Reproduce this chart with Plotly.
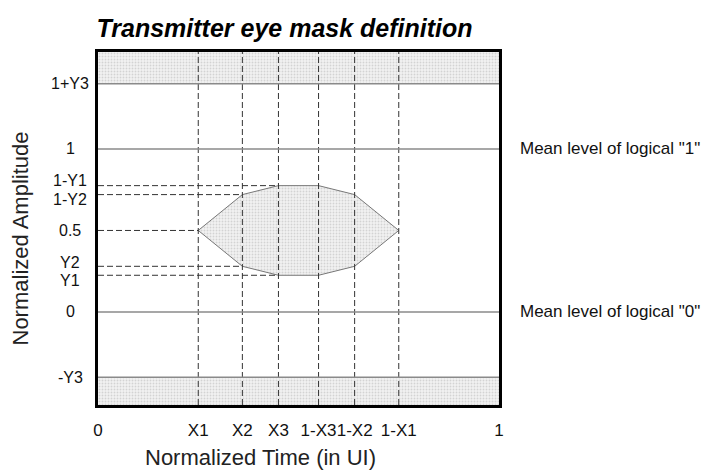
import plotly.graph_objects as go

# ---- data ----
x_ticks = [0, 0.25, 0.36, 0.45, 0.55, 0.64, 0.75, 1]
x_labels = ["0", "X1", "X2", "X3", "1-X3", "1-X2", "1-X1", "1"]

y_ticks = [1.40, 1.0, 0.775, 0.72, 0.5, 0.28, 0.225, 0.0, -0.40]
y_labels = ["1+Y3", "1", "1-Y1", "1-Y2", "0.5", "Y2", "Y1", "0", "-Y3"]

y_range = [-0.571, 1.595]

# eye-mask polygon vertices
mask_x = [0.25, 0.36, 0.45, 0.55, 0.64, 0.75, 0.64, 0.55, 0.45, 0.36, 0.25]
mask_y = [0.5, 0.72, 0.775, 0.775, 0.72, 0.5, 0.28, 0.225, 0.225, 0.28, 0.5]

# forbidden bands
band_top = [1.40, 1.595]
band_bottom = [-0.571, -0.40]

# dashed horizontal guides: level and where they stop
guide_y = [0.775, 0.72, 0.5, 0.28, 0.225]
guide_x_end = [0.45, 0.36, 0.25, 0.36, 0.45]

# solid horizontal lines
solid_y = [1.40, 1.0, 0.0, -0.40]

mean_levels = [1.0, 0.0]
mean_labels = ['Mean level of logical "1"', 'Mean level of logical "0"']

title_text = "Transmitter eye mask definition"
x_title = "Normalized Time (in UI)"
y_title = "Normalized Amplitude"

# ---- styling ----
FONT = "Liberation Sans, Arial, sans-serif"
pattern = dict(shape=".", bgcolor="#f2f2f2", fgcolor="#b4b4b4", size=3, solidity=0.3)
dash_style = dict(color="#333333", width=1, dash="6px,3px")

fig = go.Figure()

def band(y0, y1):
    fig.add_trace(go.Scatter(
        x=[0, 1, 1, 0, 0], y=[y0, y0, y1, y1, y0], mode="lines",
        fill="toself", fillcolor="#f2f2f2", fillpattern=pattern,
        line=dict(width=0), hoverinfo="skip", showlegend=False))

band(*band_top)
band(*band_bottom)

fig.add_trace(go.Scatter(
    x=mask_x, y=mask_y, mode="lines", fill="toself", fillcolor="#f2f2f2",
    fillpattern=pattern, line=dict(color="#777777", width=1),
    hoverinfo="skip", showlegend=False))

# vertical dashed guides
vx, vy = [], []
for xv in x_ticks[1:-1]:
    vx += [xv, xv, None]
    vy += [y_range[0], y_range[1], None]
fig.add_trace(go.Scatter(x=vx, y=vy, mode="lines", line=dash_style,
                         hoverinfo="skip", showlegend=False))

# horizontal dashed guides
hx, hy = [], []
for yv, xe in zip(guide_y, guide_x_end):
    hx += [0, xe, None]
    hy += [yv, yv, None]
fig.add_trace(go.Scatter(x=hx, y=hy, mode="lines", line=dash_style,
                         hoverinfo="skip", showlegend=False))

# solid horizontal lines
sx, sy = [], []
for yv in solid_y:
    sx += [0, 1, None]
    sy += [yv, yv, None]
fig.add_trace(go.Scatter(x=sx, y=sy, mode="lines",
                         line=dict(color="#8a8a8a", width=1.5),
                         hoverinfo="skip", showlegend=False))

annotations = []
label_nudge = {"1-Y1": 5, "1-Y2": -5, "Y2": 4, "Y1": -5}
for yv, lab in zip(y_ticks, y_labels):
    annotations.append(dict(
        x=0, xref="paper", xshift=-28, xanchor="center",
        y=yv, yref="y", yshift=label_nudge.get(lab, 0), yanchor="middle",
        text=lab, showarrow=False, font=dict(size=16, color="#111111", family=FONT)))

for yv, lab in zip(mean_levels, mean_labels):
    annotations.append(dict(
        x=1, xref="paper", xshift=111, xanchor="center",
        y=yv, yref="y", yanchor="middle",
        text=lab, showarrow=False, font=dict(size=17, color="#111111", family=FONT)))

annotations.append(dict(
    x=287.5 / 709, xref="paper", xanchor="center",
    y=0, yref="paper", yshift=-67, yanchor="bottom",
    text=x_title, showarrow=False, font=dict(size=22, color="#222222", family=FONT)))

annotations.append(dict(
    x=0, xref="paper", xshift=-78, xanchor="center",
    y=0.5, yref="paper", yshift=-10, yanchor="middle", textangle=-90,
    text=y_title, showarrow=False, font=dict(size=22, color="#222222", family=FONT)))

fig.update_layout(
    width=709, height=473,
    margin=dict(l=98, r=210, t=52, b=68),
    paper_bgcolor="white", plot_bgcolor="white",
    showlegend=False,
    title=dict(text="<b><i>" + title_text + "</i></b>", x=284.5 / 709, xanchor="center",
               y=1 - 28 / 473, yanchor="middle", yref="container",
               font=dict(size=25, color="#000000", family=FONT)),
    annotations=annotations,
)

fig.update_xaxes(range=[0, 1], showgrid=False, zeroline=False,
                 showline=True, mirror=True, linewidth=3, linecolor="black",
                 tickmode="array", tickvals=x_ticks, ticktext=x_labels,
                 tickangle=0, ticks="", ticklabelstandoff=8,
                 tickfont=dict(size=17, color="#111111", family=FONT))
fig.update_yaxes(range=y_range, showgrid=False, zeroline=False,
                 showline=True, mirror=True, linewidth=3, linecolor="black",
                 showticklabels=False, ticks="")

fig.write_html("out.html", config={"displayModeBar": False},
               post_script="document.body.style.margin='0';document.body.style.padding='0';")
